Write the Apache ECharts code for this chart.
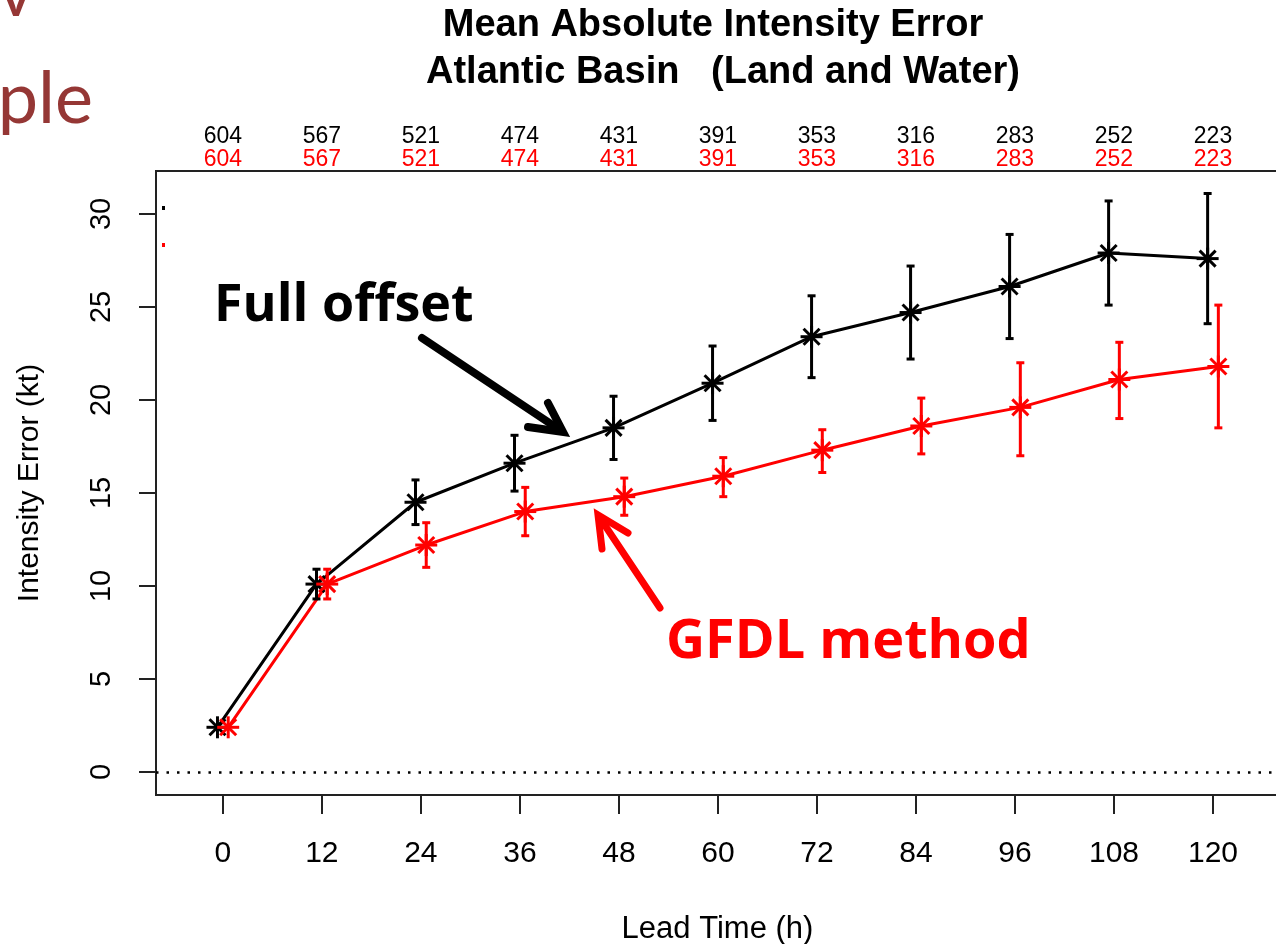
<!DOCTYPE html>
<html><head><meta charset="utf-8">
<script src="https://cdn.jsdelivr.net/npm/echarts@6/dist/echarts.min.js"></script>
<style>html,body{margin:0;padding:0;background:#fff;overflow:hidden}#c{width:1276px;height:944px}</style>
</head><body><div id="c"></div>
<script>
// ---- data ----
const leadTimes = [0, 12, 24, 36, 48, 60, 72, 84, 96, 108, 120];
const countsFull = [604, 567, 521, 474, 431, 391, 353, 316, 283, 252, 223];
const countsGFDL = [604, 567, 521, 474, 431, 391, 353, 316, 283, 252, 223];
const fullMean = [2.4, 10.1, 14.5, 16.6, 18.5, 20.9, 23.4, 24.7, 26.1, 27.9, 27.6];
const fullLow  = [2.4, 9.3, 13.3, 15.1, 16.8, 18.9, 21.2, 22.2, 23.3, 25.1, 24.1];
const fullHigh = [2.4, 10.9, 15.7, 18.1, 20.2, 22.9, 25.6, 27.2, 28.9, 30.7, 31.1];
const gfdlMean = [2.4, 10.1, 12.2, 14.0, 14.8, 15.9, 17.3, 18.6, 19.6, 21.1, 21.8];
const gfdlLow  = [2.4, 9.3, 11.0, 12.7, 13.8, 14.8, 16.1, 17.1, 17.0, 19.0, 18.5];
const gfdlHigh = [2.4, 10.9, 13.4, 15.3, 15.8, 16.9, 18.4, 20.1, 22.0, 23.1, 25.1];
const yTicks = [0, 5, 10, 15, 20, 25, 30];
const xTicks = [0, 12, 24, 36, 48, 60, 72, 84, 96, 108, 120];

const RFONT = '"Liberation Sans", Arial, Helvetica, sans-serif';
const OFF_FULL = -0.65, OFF_GFDL = 0.65;
const BLACK = '#000000', RED = '#ff0000';

function errSeries(name, color, off, mean, low, high) {
  return {
    type: 'custom', name: name, z: 5,
    encode: { x: 0, y: 1 },
    data: leadTimes.map((t, i) => [t + off, mean[i], low[i], high[i]]),
    renderItem: function (params, api) {
      const x = api.value(0), m = api.value(1), lo = api.value(2), hi = api.value(3);
      const p = api.coord([x, m]);
      const st = { stroke: color, lineWidth: 3 };
      const ch = [];
      if (hi - lo > 0.05) {
        const a = api.coord([x, hi]), b = api.coord([x, lo]);
        ch.push({ type: 'line', shape: { x1: a[0], y1: a[1], x2: b[0], y2: b[1] }, style: st });
        ch.push({ type: 'line', shape: { x1: a[0] - 4, y1: a[1], x2: a[0] + 4, y2: a[1] }, style: st });
        ch.push({ type: 'line', shape: { x1: b[0] - 4, y1: b[1], x2: b[0] + 4, y2: b[1] }, style: st });
      }
      const r = 11, d = 8;
      ch.push({ type: 'line', shape: { x1: p[0] - r, y1: p[1], x2: p[0] + r, y2: p[1] }, style: st });
      ch.push({ type: 'line', shape: { x1: p[0], y1: p[1] - r, x2: p[0], y2: p[1] + r }, style: st });
      ch.push({ type: 'line', shape: { x1: p[0] - d, y1: p[1] - d, x2: p[0] + d, y2: p[1] + d }, style: st });
      ch.push({ type: 'line', shape: { x1: p[0] - d, y1: p[1] + d, x2: p[0] + d, y2: p[1] - d }, style: st });
      return { type: 'group', children: ch };
    }
  };
}

function countAxis(counts, color, margin) {
  return {
    type: 'value', position: 'top', min: -8.1, max: 128, gridIndex: 0,
    axisLine: { show: false, onZero: false }, axisTick: { show: false }, splitLine: { show: false },
    axisLabel: {
      show: true, customValues: xTicks, interval: 0, margin: margin,
      verticalAlign: 'middle', color: color, fontSize: 23, fontFamily: RFONT,
      formatter: v => { const i = xTicks.indexOf(Math.round(v)); return i >= 0 ? String(counts[i]) : ''; }
    }
  };
}

const chart = echarts.init(document.getElementById('c'), null, { renderer: 'canvas' });
chart.setOption({
  animation: false,
  backgroundColor: '#ffffff',
  grid: { left: 156, top: 171, right: -3, bottom: 149, show: true, borderColor: '#222', borderWidth: 2, backgroundColor: 'transparent', outerBoundsMode: 'none', containLabel: false },
  xAxis: [
    {
      type: 'value', min: -8.1, max: 128, position: 'bottom',
      name: 'Lead Time (h)', nameLocation: 'middle', nameGap: 119,
      nameTextStyle: { fontSize: 31, fontFamily: RFONT, color: '#000' },
      axisLine: { show: true, onZero: false, lineStyle: { color: '#222', width: 2 } },
      axisTick: { show: true, inside: false, customValues: xTicks, length: 19, lineStyle: { color: '#222', width: 2 } },
      axisLabel: { show: true, customValues: xTicks, interval: 0, margin: 44, fontSize: 30, fontFamily: RFONT, color: '#000' },
      splitLine: { show: false }
    },
    countAxis(countsFull, BLACK, 34),
    countAxis(countsGFDL, RED, 11)
  ],
  yAxis: {
    type: 'value', min: -1.24, max: 32.31, position: 'left',
    name: 'Intensity Error (kt)', nameLocation: 'middle', nameGap: 111, nameRotate: 90,
    nameTextStyle: { fontSize: 30, fontFamily: RFONT, color: '#000' },
    axisLine: { show: true, onZero: false, lineStyle: { color: '#222', width: 2 } },
    axisTick: { show: true, inside: false, customValues: yTicks, length: 17, lineStyle: { color: '#222', width: 2 } },
    axisLabel: { show: true, customValues: yTicks, rotate: 90, margin: 40, fontSize: 29, fontFamily: RFONT, color: '#000' },
    splitLine: { show: false }
  },
  series: [
    {
      type: 'line', name: 'Full offset', z: 3, symbol: 'none', silent: true,
      data: leadTimes.map((t, i) => [t + OFF_FULL, fullMean[i]]),
      lineStyle: { color: BLACK, width: 3 },
      markLine: {
        silent: true, symbol: 'none', label: { show: false },
        lineStyle: { color: '#000', width: 2.5, type: [2.5, 8] },
        data: [{ yAxis: 0 }]
      }
    },
    {
      type: 'line', name: 'GFDL method', z: 3, symbol: 'none', silent: true,
      data: leadTimes.map((t, i) => [t + OFF_GFDL, gfdlMean[i]]),
      lineStyle: { color: RED, width: 3 }
    },
    errSeries('Full offset bars', BLACK, OFF_FULL, fullMean, fullLow, fullHigh),
    errSeries('GFDL bars', RED, OFF_GFDL, gfdlMean, gfdlLow, gfdlHigh)
  ],
  graphic: [
    { type: 'text', x: 713, y: 26, style: { text: 'Mean Absolute Intensity Error', font: 'bold 38px ' + RFONT, fill: '#000', align: 'center', verticalAlign: 'middle' } },
    { type: 'text', x: 723, y: 73, style: { text: 'Atlantic Basin   (Land and Water)', font: 'bold 38px ' + RFONT, fill: '#000', align: 'center', verticalAlign: 'middle' } },
    { type: 'text', x: 16, y: 0, style: { text: 'v', font: 'bold 50px Lato, "Open Sans", sans-serif', fill: '#953735', align: 'center', verticalAlign: 'middle' } },
    { type: 'text', x: 93, y: 100, style: { text: 'ple', font: '72px Lato, "Open Sans", sans-serif', fill: '#953735', align: 'right', verticalAlign: 'middle' } },
    { type: 'rect', shape: { x: 162, y: 206, width: 3, height: 4 }, style: { fill: '#000' } },
    { type: 'rect', shape: { x: 162, y: 243, width: 3, height: 4 }, style: { fill: '#ff0000' } },
    { type: 'text', x: 214, y: 306, style: { text: 'Full offset', font: 'bold 52px "Open Sans", Lato, sans-serif', fill: '#000', align: 'left', verticalAlign: 'middle' } },
    { type: 'text', x: 666, y: 643, style: { text: 'GFDL method', font: 'bold 54px "Open Sans", Lato, sans-serif', fill: '#ff0000', align: 'left', verticalAlign: 'middle' } },
    { type: 'line', shape: { x1: 422, y1: 338, x2: 560, y2: 430 }, style: { stroke: '#000', lineWidth: 8, lineCap: 'round' } },
    { type: 'polyline', shape: { points: [[548, 403], [563, 432], [528, 427]] }, style: { stroke: '#000', lineWidth: 8, lineCap: 'round', lineJoin: 'miter', fill: null } },
    { type: 'line', shape: { x1: 660, y1: 608, x2: 600, y2: 518 }, style: { stroke: '#ff0000', lineWidth: 7, lineCap: 'round' } },
    { type: 'polyline', shape: { points: [[628, 533], [598, 515], [602, 549]] }, style: { stroke: '#ff0000', lineWidth: 7, lineCap: 'round', lineJoin: 'miter', fill: null } }
  ]
});
</script>
</body></html>
